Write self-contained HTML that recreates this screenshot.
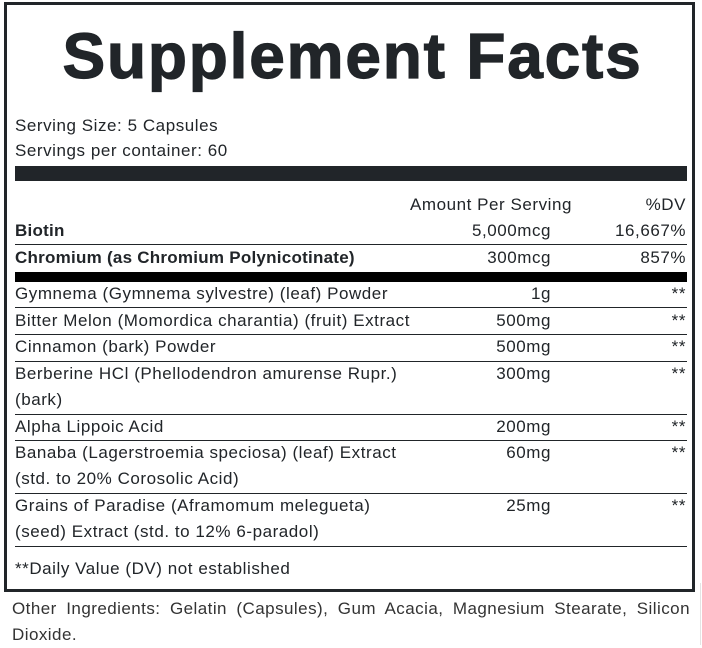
<!DOCTYPE html>
<html><head><meta charset="utf-8">
<style>
html,body{margin:0;padding:0;background:#fff;}
body{width:702px;height:645px;position:relative;overflow:hidden;font-family:"Liberation Sans",Arial,sans-serif;color:#212529;}
.box{position:absolute;left:4px;top:2px;width:685px;height:584px;border:3px solid #212529;}
.t{position:absolute;font-size:17px;line-height:20px;letter-spacing:0.55px;white-space:nowrap;}
.l{left:15px;}
.amt{right:151px;text-align:right;}
.dv{right:16px;text-align:right;}
.b{font-weight:bold;letter-spacing:0.25px;}
.hr{position:absolute;left:15px;width:672px;height:1px;background:#212529;}
.title{position:absolute;left:4px;width:697px;top:16px;text-align:center;font-size:64px;line-height:80px;font-weight:bold;letter-spacing:1.8px;-webkit-text-stroke:1.2px #212529;color:#212529;white-space:nowrap;}
.oth{position:absolute;left:12px;width:678px;top:596px;font-size:17px;line-height:26px;letter-spacing:0.45px;text-align:justify;color:#333;}
</style></head><body>
<div class="box"></div>
<div class="title">Supplement Facts</div>

<div class="t l" style="top:116px">Serving Size: 5 Capsules</div>
<div class="t l" style="top:141px">Servings per container: 60</div>
<div style="position:absolute;left:15px;top:166px;width:672px;height:15px;background:#212529"></div>

<div class="t" style="top:195px;right:130px">Amount Per Serving</div>
<div class="t dv" style="top:195px">%DV</div>

<div class="t l b" style="top:221px">Biotin</div>
<div class="t amt" style="top:221px">5,000mcg</div>
<div class="t dv" style="top:221px">16,667%</div>
<div class="hr" style="top:244px"></div>

<div class="t l b" style="top:248px">Chromium (as Chromium Polynicotinate)</div>
<div class="t amt" style="top:248px">300mcg</div>
<div class="t dv" style="top:248px">857%</div>
<div style="position:absolute;left:15px;top:272px;width:672px;height:10px;background:#000"></div>

<div class="t l" style="top:284px">Gymnema (Gymnema sylvestre) (leaf) Powder</div>
<div class="t amt" style="top:284px">1g</div>
<div class="t dv" style="top:284px">**</div>
<div class="hr" style="top:307px"></div>

<div class="t l" style="top:311px">Bitter Melon (Momordica charantia) (fruit) Extract</div>
<div class="t amt" style="top:311px">500mg</div>
<div class="t dv" style="top:311px">**</div>
<div class="hr" style="top:334px"></div>

<div class="t l" style="top:337px">Cinnamon (bark) Powder</div>
<div class="t amt" style="top:337px">500mg</div>
<div class="t dv" style="top:337px">**</div>
<div class="hr" style="top:361px"></div>

<div class="t l" style="top:364px">Berberine HCl (Phellodendron amurense Rupr.)</div>
<div class="t l" style="top:390px">(bark)</div>
<div class="t amt" style="top:364px">300mg</div>
<div class="t dv" style="top:364px">**</div>
<div class="hr" style="top:414px"></div>

<div class="t l" style="top:417px">Alpha Lippoic Acid</div>
<div class="t amt" style="top:417px">200mg</div>
<div class="t dv" style="top:417px">**</div>
<div class="hr" style="top:440px"></div>

<div class="t l" style="top:443px">Banaba (Lagerstroemia speciosa) (leaf) Extract</div>
<div class="t l" style="top:469px">(std. to 20% Corosolic Acid)</div>
<div class="t amt" style="top:443px">60mg</div>
<div class="t dv" style="top:443px">**</div>
<div class="hr" style="top:493px"></div>

<div class="t l" style="top:496px">Grains of Paradise (Aframomum melegueta)</div>
<div class="t l" style="top:522px">(seed) Extract (std. to 12% 6-paradol)</div>
<div class="t amt" style="top:496px">25mg</div>
<div class="t dv" style="top:496px">**</div>
<div class="hr" style="top:546px"></div>

<div class="t l" style="top:559px">**Daily Value (DV) not established</div>

<div class="oth">Other Ingredients: Gelatin (Capsules), Gum Acacia, Magnesium Stearate, Silicon Dioxide.</div>
<div style="position:absolute;left:700px;top:583px;width:1px;height:62px;background:#e4e4e4"></div>
</body></html>
